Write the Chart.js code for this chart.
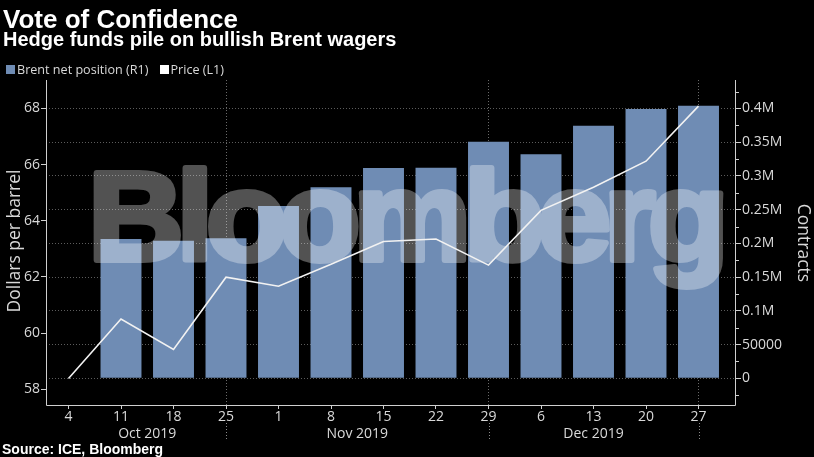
<!DOCTYPE html>
<html>
<head>
<meta charset="utf-8">
<script src="https://cdn.jsdelivr.net/npm/chart.js@4/dist/chart.umd.min.js"></script>
<style>
  html, body { margin: 0; padding: 0; background: #000; }
  #wrap { position: relative; width: 814px; height: 457px; overflow: hidden; background: #000; }
  #c { position: absolute; left: 0; top: 0; }
  .t { position: absolute; white-space: nowrap; color: #fff; line-height: 1; }
  #title { left: 3px; top: 4px; font: bold 26px "Liberation Sans", Arial, sans-serif; }
  #subtitle { left: 3px; top: 28px; font: bold 20px "Liberation Sans", Arial, sans-serif; }
  #legend { left: 6px; top: 61px; font: 12.6px "Open Sans", sans-serif; color: #d9d9d9; }
  #legend span.sw { display: inline-block; width: 9px; height: 9px; margin-right: 2px; vertical-align: 0px; }
  #source { left: 2px; top: 441px; font: bold 14px "Liberation Sans", Arial, sans-serif; }
</style>
</head>
<body>
<div id="wrap">
  <canvas id="c" width="814" height="457"></canvas>
  <div class="t" id="title">Vote of Confidence</div>
  <div class="t" id="subtitle">Hedge funds pile on bullish Brent wagers</div>
  <div class="t" id="legend"><span class="sw" style="background:#6f8cb4"></span>Brent net position (R1)<span style="display:inline-block;width:11px"></span><span class="sw" style="background:#ffffff"></span>Price (L1)</div>
  <div class="t" id="source">Source: ICE, Bloomberg</div>
</div>
<script>
// ---------- data ----------
const priceDates = ['2019-10-04','2019-10-11','2019-10-18','2019-10-25','2019-11-01','2019-11-08','2019-11-15','2019-11-22','2019-11-29','2019-12-06','2019-12-13','2019-12-20','2019-12-27'];
const price = [58.38, 60.50, 59.42, 61.99, 61.67, 62.45, 63.26, 63.35, 62.42, 64.37, 65.19, 66.12, 68.08];
const positionDates = ['2019-10-11','2019-10-18','2019-10-25','2019-11-01','2019-11-08','2019-11-15','2019-11-22','2019-11-29','2019-12-06','2019-12-13','2019-12-20','2019-12-27'];
const netPosition = [206500, 204000, 207600, 255400, 283200, 311800, 312200, 350800, 332100, 374500, 399300, 404200];
const tickLabels = ['4','11','18','25','1','8','15','22','29','6','13','20','27'];
const monthLabels = ['Oct 2019','Nov 2019','Dec 2019'];
const monthEndTickIdx = [3, 8, 12];
const leftTicks = [58, 60, 62, 64, 66, 68];
const rightTicks = [0, 50000, 100000, 150000, 200000, 250000, 300000, 350000, 400000];
const rightMinorTicks = [-25000, 25000, 75000, 125000, 175000, 225000, 275000, 325000, 375000, 425000];

// ---------- helpers ----------
const ORIGIN = Date.UTC(2019, 9, 1);
function dayIndex(s) {
  const p = s.split('-').map(Number);
  return (Date.UTC(p[0], p[1] - 1, p[2]) - ORIGIN) / 86400000;
}
const tickDays = priceDates.map(dayIndex);
const separatorDays = monthEndTickIdx.map(i => tickDays[i]);
function fmtRight(v) {
  if (v === 0) return '0';
  if (v < 100000) return String(v);
  return (v / 1e6) + 'M';
}

const FONT_TICK = { family: '"Open Sans", sans-serif', size: 14 };
const TICK_COLOR = '#d9d9d9';
const GRID_COLOR = '#5c5c5c';
const BAR_COLOR = '#6f8cb4';

function makeWatermark() {
  const off = document.createElement('canvas');
  off.width = 814; off.height = 457;
  const c = off.getContext('2d');
  c.font = 'bold 126px "Liberation Sans", Arial, sans-serif';
  try { c.letterSpacing = '-7px'; } catch (e) {}
  c.textBaseline = 'alphabetic';
  c.textAlign = 'left';
  const txt = 'Bloomberg';
  const w = c.measureText(txt).width + 6;
  const target = 640;
  c.save();
  c.translate(88, 260);
  c.scale(target / w, 1);
  c.fillStyle = '#fff';
  c.strokeStyle = '#fff';
  c.lineJoin = 'round';
  c.lineWidth = 6;
  c.strokeText(txt, 0, 0);
  c.fillText(txt, 0, 0);
  c.restore();
  return off;
}
const watermark = makeWatermark();

const decor = {
  id: 'decor',
  afterDatasetDraw(chart, args) {
    if (args.index !== 0) return;
    const ctx = chart.ctx;
    ctx.save();
    ctx.globalAlpha = 0.32;
    ctx.drawImage(watermark, 0, 0);
    ctx.restore();
  },
  afterDraw(chart) {
    const ctx = chart.ctx;
    const a = chart.chartArea;
    const x = chart.scales.x, y1 = chart.scales.y1;
    ctx.save();
    // axis lines
    ctx.strokeStyle = '#cfcfcf';
    ctx.lineWidth = 1;
    ctx.beginPath();
    ctx.moveTo(a.left + 0.5, a.top); ctx.lineTo(a.left + 0.5, a.bottom + 0.5);
    ctx.lineTo(a.right - 0.5, a.bottom + 0.5);
    ctx.lineTo(a.right - 0.5, a.top);
    ctx.stroke();
    // minor ticks on right axis
    ctx.beginPath();
    rightMinorTicks.forEach(v => {
      const py = Math.round(y1.getPixelForValue(v)) + 0.5;
      if (py > a.top && py < a.bottom) {
        ctx.moveTo(a.right, py); ctx.lineTo(a.right + 3, py);
      }
    });
    ctx.stroke();
    // separator extensions below axis
    ctx.strokeStyle = '#8a8a8a';
    ctx.setLineDash([1, 2]);
    ctx.beginPath();
    separatorDays.forEach(d => {
      const px = Math.round(x.getPixelForValue(d)) + 0.5;
      ctx.moveTo(px, 423); ctx.lineTo(px, 441);
    });
    ctx.stroke();
    ctx.setLineDash([]);
    // month labels
    ctx.fillStyle = TICK_COLOR;
    ctx.font = '14px "Open Sans", sans-serif';
    ctx.textAlign = 'center';
    ctx.textBaseline = 'alphabetic';
    const bounds = [[0, 3], [3, 8], [8, 12]];
    monthLabels.forEach((m, i) => {
      const mid = (tickDays[bounds[i][0]] + tickDays[bounds[i][1]]) / 2;
      ctx.fillText(m, x.getPixelForValue(mid), 438);
    });
    // axis titles
    ctx.font = '17.5px "Open Sans", sans-serif';
    ctx.textBaseline = 'middle';
    ctx.save();
    ctx.translate(15, 241);
    ctx.rotate(-Math.PI / 2);
    ctx.fillText('Dollars per barrel', 0, 0);
    ctx.restore();
    ctx.save();
    ctx.translate(803, 243);
    ctx.rotate(Math.PI / 2);
    ctx.fillText('Contracts', 0, 0);
    ctx.restore();
    ctx.restore();
  }
};

new Chart(document.getElementById('c'), {
  type: 'bar',
  data: {
    datasets: [
      {
        type: 'bar',
        label: 'Brent net position (R1)',
        data: positionDates.map((d, i) => ({ x: dayIndex(d), y: netPosition[i] })),
        yAxisID: 'y1',
        xAxisID: 'x',
        backgroundColor: BAR_COLOR,
        borderWidth: 0,
        barPercentage: 0.78,
        categoryPercentage: 1,
        order: 2
      },
      {
        type: 'line',
        label: 'Price (L1)',
        data: priceDates.map((d, i) => ({ x: dayIndex(d), y: price[i] })),
        yAxisID: 'y',
        xAxisID: 'x',
        borderColor: '#f2f2f2',
        borderWidth: 1.6,
        pointRadius: 0,
        tension: 0,
        fill: false,
        order: 1
      }
    ]
  },
  options: {
    responsive: false,
    animation: false,
    devicePixelRatio: 1,
    layout: { padding: { top: 80, left: 0, right: 0, bottom: 0 } },
    plugins: { legend: { display: false }, tooltip: { enabled: false } },
    scales: {
      x: {
        type: 'linear',
        min: 0, max: 92,
        offset: false,
        afterBuildTicks: s => { s.ticks = tickDays.map(v => ({ value: v })); },
        afterFit: s => { s.height = 52; },
        ticks: {
          autoSkip: false, maxRotation: 0, minRotation: 0,
          color: TICK_COLOR, font: FONT_TICK, padding: 0,
          callback: v => { const i = tickDays.indexOf(v); return i >= 0 ? tickLabels[i] : ''; }
        },
        grid: {
          offset: false,
          drawOnChartArea: true,
          color: c => (c.tick && separatorDays.includes(c.tick.value)) ? '#6a6a6a' : 'rgba(0,0,0,0)',
          tickColor: '#cfcfcf',
          tickLength: 4
        },
        border: { display: false, dash: [1, 2] }
      },
      y: {
        type: 'linear',
        position: 'left',
        min: 57.44, max: 69.01,
        afterBuildTicks: s => { s.ticks = leftTicks.map(v => ({ value: v })); },
        afterFit: s => { s.width = 46; },
        ticks: { color: TICK_COLOR, font: FONT_TICK, padding: 1 },
        grid: { drawOnChartArea: false, tickColor: '#cfcfcf', tickLength: 5 },
        border: { display: false }
      },
      y1: {
        type: 'linear',
        position: 'right',
        min: -39585, max: 442250,
        afterBuildTicks: s => { s.ticks = rightTicks.map(v => ({ value: v })); },
        afterFit: s => { s.width = 78; },
        ticks: { color: TICK_COLOR, font: FONT_TICK, padding: 1, callback: v => fmtRight(v) },
        grid: { drawOnChartArea: true, color: GRID_COLOR, tickColor: '#cfcfcf', tickLength: 5 },
        border: { display: false, dash: [1, 2] }
      }
    }
  },
  plugins: [decor]
});
</script>
</body>
</html>
